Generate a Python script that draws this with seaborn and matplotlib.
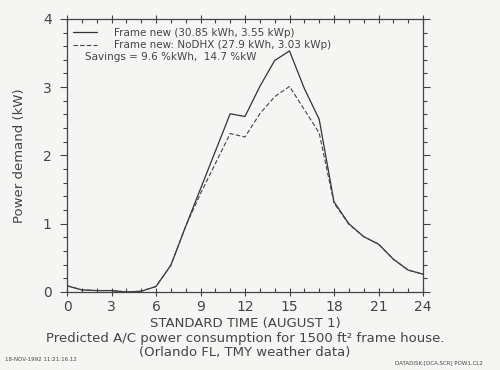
import numpy as np
import matplotlib
matplotlib.use("Agg")
import matplotlib.pyplot as plt
import seaborn as sns
from matplotlib.ticker import MultipleLocator

# hourly A/C power demand (kW), hours 0..24
hours = list(range(25))
frame_new = [0.09, 0.03, 0.02, 0.02, 0.00, 0.01, 0.08, 0.39, 0.96, 1.51, 2.06, 2.61,
             2.57, 3.01, 3.39, 3.53, 2.98, 2.53, 1.32, 1.00, 0.81, 0.70, 0.48, 0.32, 0.26]
frame_nodhx = [0.09, 0.03, 0.02, 0.02, 0.00, 0.01, 0.08, 0.39, 0.96, 1.44, 1.88, 2.32,
               2.27, 2.61, 2.86, 3.01, 2.67, 2.33, 1.30, 0.99, 0.81, 0.70, 0.48, 0.32, 0.26]

label_new = "Frame new (30.85 kWh, 3.55 kWp)"
label_nodhx = "Frame new: NoDHX (27.9 kWh, 3.03 kWp)"
savings_text = "Savings = 9.6 %kWh,  14.7 %kW"

sns.set_style("ticks")
plt.rcParams['font.family'] = ['DejaVu Sans']
ink = "#444444"
paper = "#f5f5f3"

fig = plt.figure(figsize=(5, 3.7), dpi=100, facecolor=paper)
ax = fig.add_axes([0.134, 0.211, 0.712, 0.738])
ax.set_facecolor(paper)

sns.lineplot(x=hours, y=frame_new, ax=ax, color="#333333", linewidth=0.9, label=label_new)
sns.lineplot(x=hours, y=frame_nodhx, ax=ax, color="#444444", linewidth=0.8,
             linestyle=(0, (4, 2)), label=label_nodhx)

ax.set_xlim(0, 24)
ax.set_ylim(0, 4)
ax.xaxis.set_major_locator(MultipleLocator(3))
ax.xaxis.set_minor_locator(MultipleLocator(1))
ax.yaxis.set_major_locator(MultipleLocator(1))
ax.yaxis.set_minor_locator(MultipleLocator(0.2))
ax.tick_params(axis="both", which="both", colors=ink, labelsize=10, width=0.8,
               top=True, right=True, direction="out")
ax.tick_params(axis="x", which="major", length=6, direction="inout", pad=3)
ax.tick_params(axis="x", which="minor", length=3, direction="in")
ax.tick_params(axis="y", which="major", length=5, pad=6)
ax.tick_params(axis="y", which="minor", length=3)
for s in ax.spines.values():
    s.set_color(ink)
    s.set_linewidth(0.9)
    s.set_visible(True)

ax.set_ylabel("Power demand (kW)", fontsize=9.5, color=ink, labelpad=12)

leg = ax.legend(loc="upper left", frameon=False, fontsize=7.5, handlelength=2.3,
                borderaxespad=0.2, labelspacing=0.25, handletextpad=1.6,
                bbox_to_anchor=(0.0, 0.99))
for t in leg.get_texts():
    t.set_color(ink)
ax.text(0.05, 0.862, savings_text, transform=ax.transAxes, fontsize=7.5, color=ink,
        va="center")

fig.text(0.49, 0.127, "STANDARD TIME (AUGUST 1)", ha="center", va="center",
         fontsize=9.5, color=ink)
fig.text(0.49, 0.086, "Predicted A/C power consumption for 1500 ft\u00b2 frame house.",
         ha="center", va="center", fontsize=9.5, color=ink)
fig.text(0.49, 0.047, "(Orlando FL, TMY weather data)", ha="center", va="center",
         fontsize=9.5, color=ink)
fig.text(0.01, 0.025, "18-NOV-1992 11:21:16.12", fontsize=4, color=ink)
fig.text(0.965, 0.015, "DATADISK:[DCA.SCR] POW1.CL2", fontsize=4, color=ink, ha="right")

fig.savefig("out.png", dpi=100, facecolor=paper)
